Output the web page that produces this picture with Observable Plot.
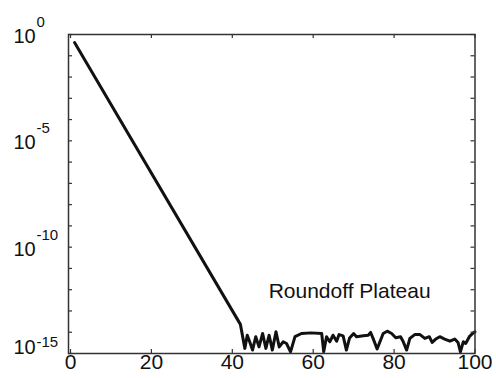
<!DOCTYPE html>
<html>
<head>
<meta charset="utf-8">
<script src="https://cdn.jsdelivr.net/npm/d3@7"></script>
<script src="https://cdn.jsdelivr.net/npm/@observablehq/plot@0.6"></script>
<style>
  html, body { margin: 0; padding: 0; background: #fff; }
  #chart svg { display: block; }
</style>
</head>
<body>
<div id="chart"></div>
<script>
// Iteration number and the corresponding error (log scale)
const iteration = [
  1, 42, 43.1, 43.7, 44.3, 45.0, 45.8, 46.6, 47.5, 48.3, 49.1, 49.9,
  50.8, 51.6, 52.6, 53.4, 54.4, 55.5, 57.1, 59.5, 62.1, 62.6,
  63.3, 64.1, 64.9, 65.8, 66.4, 67.4, 68.2, 69.0, 70.0, 70.7,
  72.4, 73.6, 74.2, 74.8, 75.8, 77.3, 78.3, 79.4, 80.4, 81.6,
  82.2, 83.1, 83.9, 85.1, 86.4, 87.6, 88.7, 89.4, 90.3, 91.3,
  92.5, 93.8, 95.0, 95.8, 96.4, 97.1, 97.7, 98.6, 99.4, 100
];
const error = [
  4.2e-1, 2.34e-14, 1.74e-15, 7.24e-15, 3.55e-15, 1.45e-15, 6.17e-15, 2.04e-15, 8.71e-15, 1.74e-15, 7.24e-15, 1.45e-15,
  1.05e-14, 2.04e-15, 3.55e-15, 2.95e-15, 1.20e-15, 6.17e-15, 8.71e-15, 9.33e-15, 8.71e-15, 1.20e-15,
  6.17e-15, 3.55e-15, 7.24e-15, 3.80e-15, 7.76e-15, 6.76e-15, 1.45e-15, 5.37e-15, 8.71e-15, 6.17e-15,
  6.76e-15, 7.24e-15, 9.77e-15, 5.13e-15, 1.62e-15, 8.71e-15, 1.12e-14, 8.71e-15, 5.50e-15, 6.17e-15,
  3.80e-15, 1.45e-15, 5.13e-15, 7.76e-15, 7.76e-15, 5.13e-15, 6.17e-15, 3.31e-15, 4.79e-15, 6.17e-15,
  4.79e-15, 3.80e-15, 4.79e-15, 3.31e-15, 1.20e-15, 3.55e-15, 2.95e-15, 6.17e-15, 8.71e-15, 1.05e-14
];

// Axis ticks and labels
const xTicks = [0, 20, 40, 60, 80, 100];
const yDecades = [1e-15, 1e-14, 1e-13, 1e-12, 1e-11, 1e-10, 1e-9, 1e-8, 1e-7, 1e-6, 1e-5, 1e-4, 1e-3, 1e-2, 1e-1, 1e0];
const yLabelValues = [1e0, 1e-5, 1e-10];
const yLabelExponents = ["0", "-5", "-10"];
const yBottomValue = 1e-15;
const yBottomExponent = "-15";
const labelBase = "10";

// Annotation
const noteText = "Roundoff Plateau";
const noteX = 69;
const noteY = 8.7e-13;

const series = iteration.map((x, i) => ({x, e: error[i]}));
const yLabels = yLabelValues.map((v, i) => ({v, exp: yLabelExponents[i]}));

const W = 496, H = 378;
const mL = 68, mR = 21.5, mT = 34, mB = 25;
const plotW = W - mL - mR, plotH = H - mT - mB;
const tickLen = 4;
const font = "'Liberation Sans', Arial, Helvetica, sans-serif";
const axisColor = "#333";
const ink = "#111";

const chart = Plot.plot({
  width: W,
  height: H,
  marginLeft: mL,
  marginRight: mR,
  marginTop: mT,
  marginBottom: mB,
  style: {fontFamily: font, background: "#fff", color: ink},
  x: {domain: [0, 100], insetLeft: 2, axis: null},
  y: {type: "log", domain: [1e-15, 1], axis: null},
  marks: [
    // error curve
    Plot.line(series, {x: "x", y: "e", stroke: ink, strokeWidth: 3, strokeLinejoin: "round", strokeLinecap: "round"}),
    // box and inward ticks on all four sides
    Plot.frame({stroke: axisColor, strokeWidth: 1.5}),
    Plot.tickX(xTicks, {x: d => d, insetTop: plotH - tickLen, stroke: axisColor, strokeWidth: 1.2}),
    Plot.tickX(xTicks, {x: d => d, insetBottom: plotH - tickLen, stroke: axisColor, strokeWidth: 1.2}),
    Plot.tickY(yDecades, {y: d => d, insetRight: plotW - tickLen, stroke: axisColor, strokeWidth: 1.2}),
    Plot.tickY(yDecades, {y: d => d, insetLeft: plotW - tickLen, stroke: axisColor, strokeWidth: 1.2}),
    // x tick labels
    Plot.text(xTicks, {x: d => d, frameAnchor: "bottom", dy: 15.6, text: d => String(d), fontSize: 21, fill: ink}),
    // y tick labels: base and superscript exponent
    Plot.text(yLabels, {y: "v", frameAnchor: "left", textAnchor: "start", dx: -55, dy: 2, text: () => labelBase, fontSize: 20, fill: ink}),
    Plot.text(yLabels, {y: "v", frameAnchor: "left", textAnchor: "start", dx: -32, dy: -12.4, text: "exp", fontSize: 15, fill: ink}),
    // bottom label sits a little higher so it clears the x labels
    Plot.text([yBottomValue], {y: d => d, frameAnchor: "left", textAnchor: "start", dx: -55, dy: -6.1, text: () => labelBase, fontSize: 20, fill: ink}),
    Plot.text([yBottomValue], {y: d => d, frameAnchor: "left", textAnchor: "start", dx: -32, dy: -11.1, text: () => yBottomExponent, fontSize: 15, fill: ink}),
    // annotation
    Plot.text([noteText], {x: noteX, y: noteY, text: d => d, fontSize: 21, fill: ink})
  ]
});

document.getElementById("chart").appendChild(chart);
</script>
</body>
</html>
